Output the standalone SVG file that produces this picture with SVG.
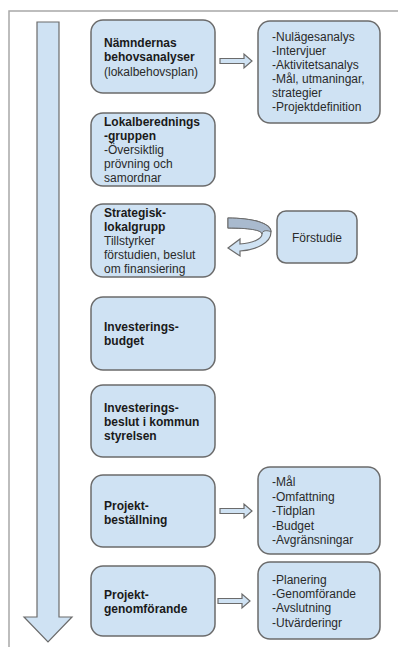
<svg xmlns="http://www.w3.org/2000/svg" width="398" height="651" viewBox="0 0 398 651">
<style>
.box{fill:#cfe2f3;stroke:#6b6b6b;stroke-width:1.5}
.t{font-family:"Liberation Sans",Arial,sans-serif;font-size:12px;fill:#2a2a2a}
.b{font-weight:bold;fill:#1a1a1a}
.arr{fill:#cfe2f3;stroke:#6b6b6b;stroke-width:1.2;stroke-linejoin:miter}
</style>
<rect width="398" height="651" fill="#ffffff"/>
<g id="frame">
<path d="M9 647 L9 11 L398 11" fill="none" stroke="#a8a8a8" stroke-width="1.5"/>
</g>
<g id="timeline">
<path class="arr" d="M37 22 L59 22 L59 617 L72 617 L48 642 L24 617 L37 617 Z"/>
</g>
<g id="connectors">
<path class="arr" d="M220 58.5 L244 58.5 L244 54 L252 61 L244 68 L244 63.5 L220 63.5 Z"/>
<path class="arr" d="M220 508.5 L244 508.5 L244 504 L252 511 L244 518 L244 513.5 L220 513.5 Z"/>
<path class="arr" d="M218 598.5 L242 598.5 L242 594 L250 601 L242 608 L242 603.5 L218 603.5 Z"/>
<path d="M228 218 C252 218 271 223 271 232 C271 243 256 250 240 251 L240 256 L228 248 L240 239 L240 244 C253 243 262 239 262 234 C262 230 248 228 228 228 Z" fill="#cfe2f3" stroke="#6b6b6b" stroke-width="1.2"/>
<path d="M228 218 C252 218 271 223 271 232 C268 230 262 230 262 234 C262 230 248 228 228 228 Z" fill="#a9bace" stroke="#6b6b6b" stroke-width="1"/>
</g>
<g id="n1">
<rect class="box" x="91" y="20" width="124" height="73" rx="12"/>
<text class="t b" x="104" y="47">Nämndernas</text>
<text class="t b" x="104" y="61">behovsanalyser</text>
<text class="t" x="104" y="76">(lokalbehovsplan)</text>
</g>
<g id="n2">
<rect class="box" x="91" y="113" width="124" height="73" rx="12"/>
<text class="t b" x="104" y="126">Lokalberednings</text>
<text class="t b" x="104" y="140">-gruppen</text>
<text class="t" x="104" y="154">-Översiktlig</text>
<text class="t" x="104" y="168">prövning och</text>
<text class="t" x="104" y="182">samordnar</text>
</g>
<g id="n3">
<rect class="box" x="91" y="204" width="124" height="73" rx="12"/>
<text class="t b" x="104" y="217">Strategisk-</text>
<text class="t b" x="104" y="231">lokalgrupp</text>
<text class="t" x="104" y="245">Tillstyrker</text>
<text class="t" x="104" y="259">förstudien, beslut</text>
<text class="t" x="104" y="273">om finansiering</text>
</g>
<g id="n4">
<rect class="box" x="91" y="297" width="124" height="73" rx="12"/>
<text class="t b" x="104" y="331">Investerings-</text>
<text class="t b" x="104" y="345">budget</text>
</g>
<g id="n5">
<rect class="box" x="91" y="385" width="124" height="72" rx="12"/>
<text class="t b" x="104" y="412">Investerings-</text>
<text class="t b" x="104" y="426">beslut i kommun</text>
<text class="t b" x="104" y="440">styrelsen</text>
</g>
<g id="n6">
<rect class="box" x="91" y="475" width="124" height="72" rx="12"/>
<text class="t b" x="104" y="510">Projekt-</text>
<text class="t b" x="104" y="524">beställning</text>
</g>
<g id="n7">
<rect class="box" x="91" y="566" width="124" height="70" rx="12"/>
<text class="t b" x="104" y="599">Projekt-</text>
<text class="t b" x="104" y="613">genomförande</text>
</g>
<g id="r1">
<rect class="box" x="258" y="21" width="122" height="102" rx="12"/>
<text class="t" x="272" y="41">-Nulägesanalys</text>
<text class="t" x="272" y="55">-Intervjuer</text>
<text class="t" x="272" y="69">-Aktivitetsanalys</text>
<text class="t" x="272" y="83">-Mål, utmaningar,</text>
<text class="t" x="272" y="97">strategier</text>
<text class="t" x="272" y="111">-Projektdefinition</text>
</g>
<g id="r2">
<rect class="box" x="277" y="211" width="80" height="52" rx="9"/>
<text class="t" x="317" y="242" text-anchor="middle">Förstudie</text>
</g>
<g id="r3">
<rect class="box" x="258" y="467" width="122" height="87" rx="12"/>
<text class="t" x="272" y="486">-Mål</text>
<text class="t" x="272" y="501">-Omfattning</text>
<text class="t" x="272" y="515">-Tidplan</text>
<text class="t" x="272" y="530">-Budget</text>
<text class="t" x="272" y="544">-Avgränsningar</text>
</g>
<g id="r4">
<rect class="box" x="258" y="562" width="122" height="77" rx="12"/>
<text class="t" x="272" y="584">-Planering</text>
<text class="t" x="272" y="598">-Genomförande</text>
<text class="t" x="272" y="612">-Avslutning</text>
<text class="t" x="272" y="627">-Utvärderingr</text>
</g>
</svg>
